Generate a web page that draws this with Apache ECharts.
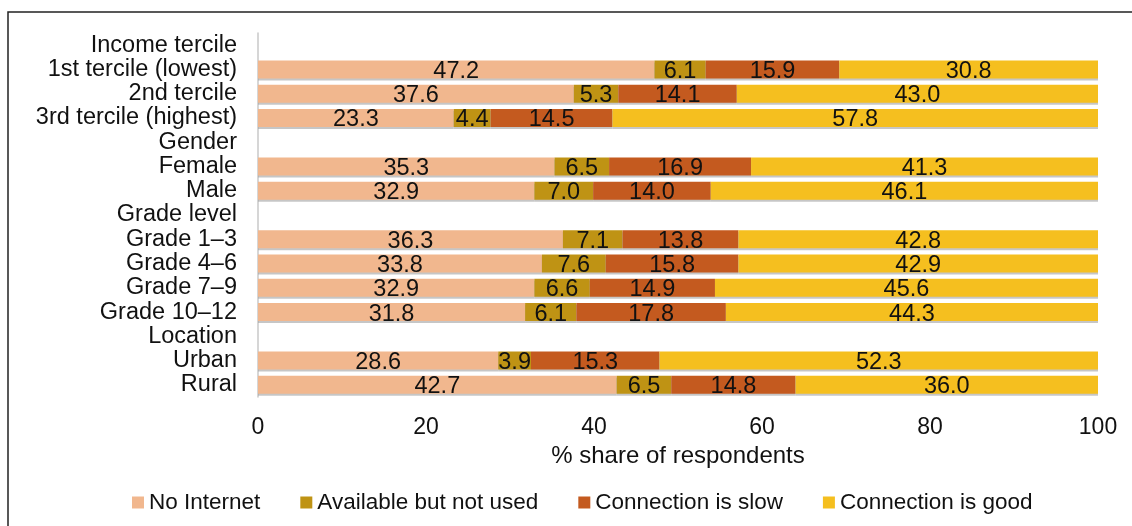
<!DOCTYPE html>
<html>
<head>
<meta charset="utf-8">
<script src="https://cdn.jsdelivr.net/npm/echarts@6/dist/echarts.min.js"></script>
<style>
  html, body { margin: 0; padding: 0; background: #fff; }
  #chart { width: 1132px; height: 526px; }
</style>
</head>
<body>
<div id="chart"></div>
<script>
// rows from top to bottom, group headers carry no bar
const categories = [
  'Income tercile', '1st tercile (lowest)', '2nd tercile', '3rd tercile (highest)',
  'Gender', 'Female', 'Male',
  'Grade level', 'Grade 1–3', 'Grade 4–6', 'Grade 7–9', 'Grade 10–12',
  'Location', 'Urban', 'Rural'
]
const noInternet   = [null, 47.2, 37.6, 23.3, null, 35.3, 32.9, null, 36.3, 33.8, 32.9, 31.8, null, 28.6, 42.7]
const notUsed      = [null, 6.1, 5.3, 4.4, null, 6.5, 7.0, null, 7.1, 7.6, 6.6, 6.1, null, 3.9, 6.5]
const slow         = [null, 15.9, 14.1, 14.5, null, 16.9, 14.0, null, 13.8, 15.8, 14.9, 17.8, null, 15.3, 14.8]
const good         = [null, 30.8, 43.0, 57.8, null, 41.3, 46.1, null, 42.8, 42.9, 45.6, 44.3, null, 52.3, 36.0]
const xTicks       = [0, 20, 40, 60, 80, 100]

const seriesInfo = [
  { name: 'No Internet', data: noInternet, color: '#F1B78E' },
  { name: 'Available but not used', data: notUsed, color: '#BF9314' },
  { name: 'Connection is slow', data: slow, color: '#C45A1F' },
  { name: 'Connection is good', data: good, color: '#F5BF1F' }
]

const font = 'Liberation Sans, Arial, sans-serif'
const chart = echarts.init(document.getElementById('chart'))

const option = {
  animation: false,
  textStyle: { fontFamily: font },
  graphic: [{
    type: 'polyline',
    shape: { points: [[8, 540], [8, 12], [1140, 12]] },
    style: { stroke: '#222', lineWidth: 1.5, fill: null }
  }],
  legend: {
    bottom: 7,
    left: 127,
    itemWidth: 12,
    itemHeight: 12,
    itemGap: 40,
    icon: 'rect',
    textStyle: { fontSize: 22.5, color: '#111', fontFamily: font, padding: [0, 0, 0, 0] },
    data: seriesInfo.map(s => s.name)
  },
  grid: { left: 258, right: 34, top: 33, bottom: 129, containLabel: false },
  xAxis: {
    type: 'value',
    min: xTicks[0],
    max: xTicks[xTicks.length - 1],
    interval: 20,
    name: '% share of respondents',
    nameLocation: 'middle',
    nameGap: 40,
    nameTextStyle: { fontSize: 24, color: '#111', fontFamily: font },
    axisLine: { show: false },
    axisTick: { show: false },
    splitLine: { show: false },
    axisLabel: { fontSize: 23, color: '#111', margin: 19, fontFamily: font }
  },
  yAxis: {
    type: 'category',
    inverse: true,
    data: categories,
    axisLine: { show: true, lineStyle: { color: '#C8C8C8', width: 1.5 } },
    axisTick: { show: false },
    axisLabel: { interval: 0, fontSize: 23.5, color: '#111', margin: 21, fontFamily: font }
  },
  series: seriesInfo.map(s => ({
    name: s.name,
    type: 'bar',
    stack: 'total',
    barWidth: 18,
    data: s.data,
    itemStyle: {
      color: s.color,
      shadowColor: 'rgba(160,160,160,0.6)',
      shadowOffsetY: 2,
      shadowBlur: 0
    },
    label: {
      show: true,
      position: 'inside',
      offset: [0, 2],
      fontSize: 23.5,
      color: '#111',
      fontFamily: font,
      formatter: p => (p.value == null ? '' : Number(p.value).toFixed(1))
    }
  }))
}

chart.setOption(option)
</script>
</body>
</html>
